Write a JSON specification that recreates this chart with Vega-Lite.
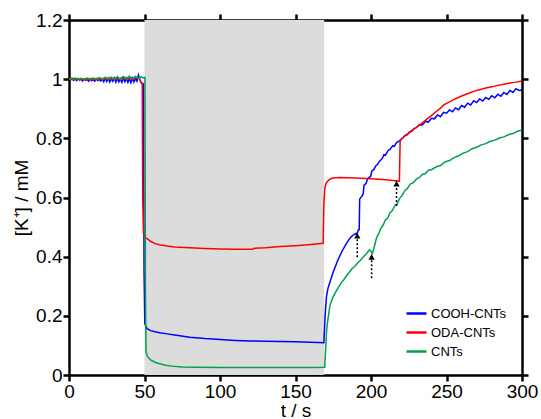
{
  "$schema": "https://vega.github.io/schema/vega-lite/v6.json",
  "width": 453,
  "height": 355,
  "autosize": {"type": "none"},
  "padding": {"left": 69, "top": 20, "right": 19, "bottom": 44},
  "config": {
    "view": {"stroke": null},
    "font": "Liberation Sans",
    "axis": {
      "grid": false,
      "domainColor": "black",
      "domainWidth": 2.5,
      "tickColor": "black",
      "tickWidth": 2.5,
      "tickSize": 6,
      "labelColor": "black",
      "labelFontSize": 19,
      "labelFont": "Liberation Sans",
      "titleFont": "Liberation Sans",
      "titleFontSize": 19,
      "titleFontWeight": "normal",
      "titleColor": "black",
      "labelFlush": false,
      "labelOverlap": false
    },
    "legend": {
      "orient": "none",
      "legendX": 336,
      "legendY": 282,
      "padding": 0,
      "symbolType": "stroke",
      "symbolSize": 400,
      "symbolStrokeWidth": 2.5,
      "labelFontSize": 13,
      "labelFont": "Liberation Sans",
      "labelColor": "black",
      "labelOffset": 3,
      "rowPadding": 0,
      "title": null
    }
  },
  "datasets": {
    "band": [{"start": 50, "end": 169}],
    "arrows": [
      {"t": 190.9, "from": 0.398, "to": 0.481},
      {"t": 200.4, "from": 0.327, "to": 0.409},
      {"t": 216.9, "from": 0.571, "to": 0.657}
    ],
    "lines": [
      {"series":"COOH-CNTs","t":0,"k":1.000},{"series":"COOH-CNTs","t":1,"k":0.997},{"series":"COOH-CNTs","t":2,"k":1.003},{"series":"COOH-CNTs","t":3,"k":0.996},{"series":"COOH-CNTs","t":4,"k":1.001},{"series":"COOH-CNTs","t":5,"k":0.995},{"series":"COOH-CNTs","t":6,"k":1.002},{"series":"COOH-CNTs","t":7,"k":0.997},{"series":"COOH-CNTs","t":8,"k":1.000},{"series":"COOH-CNTs","t":9,"k":0.994},{"series":"COOH-CNTs","t":10,"k":1.001},{"series":"COOH-CNTs","t":11,"k":0.996},{"series":"COOH-CNTs","t":12,"k":0.999},{"series":"COOH-CNTs","t":13,"k":0.993},{"series":"COOH-CNTs","t":14,"k":1.001},{"series":"COOH-CNTs","t":15,"k":0.995},{"series":"COOH-CNTs","t":16,"k":0.999},{"series":"COOH-CNTs","t":17,"k":0.993},{"series":"COOH-CNTs","t":18,"k":1.002},{"series":"COOH-CNTs","t":19,"k":0.995},{"series":"COOH-CNTs","t":20,"k":1.000},{"series":"COOH-CNTs","t":21,"k":0.994},{"series":"COOH-CNTs","t":22,"k":1.001},{"series":"COOH-CNTs","t":23,"k":0.991},{"series":"COOH-CNTs","t":24,"k":1.003},{"series":"COOH-CNTs","t":25,"k":0.992},{"series":"COOH-CNTs","t":26,"k":1.003},{"series":"COOH-CNTs","t":27,"k":0.990},{"series":"COOH-CNTs","t":28,"k":1.002},{"series":"COOH-CNTs","t":29,"k":0.993},{"series":"COOH-CNTs","t":30,"k":1.004},{"series":"COOH-CNTs","t":31,"k":0.990},{"series":"COOH-CNTs","t":32,"k":1.003},{"series":"COOH-CNTs","t":33,"k":0.991},{"series":"COOH-CNTs","t":34,"k":1.002},{"series":"COOH-CNTs","t":35,"k":0.989},{"series":"COOH-CNTs","t":36,"k":1.004},{"series":"COOH-CNTs","t":37,"k":0.991},{"series":"COOH-CNTs","t":38,"k":1.003},{"series":"COOH-CNTs","t":39,"k":0.989},{"series":"COOH-CNTs","t":40,"k":1.002},{"series":"COOH-CNTs","t":41,"k":0.988},{"series":"COOH-CNTs","t":42,"k":1.003},{"series":"COOH-CNTs","t":43,"k":0.990},{"series":"COOH-CNTs","t":44,"k":1.002},{"series":"COOH-CNTs","t":45,"k":0.993},{"series":"COOH-CNTs","t":46,"k":1.014},{"series":"COOH-CNTs","t":47,"k":0.997},{"series":"COOH-CNTs","t":48,"k":0.986},{"series":"COOH-CNTs","t":49.3,"k":0.984},{"series":"COOH-CNTs","t":49.7,"k":0.35},{"series":"COOH-CNTs","t":50.2,"k":0.175},{"series":"COOH-CNTs","t":51,"k":0.162},{"series":"COOH-CNTs","t":52,"k":0.156},{"series":"COOH-CNTs","t":54,"k":0.150},{"series":"COOH-CNTs","t":57,"k":0.146},{"series":"COOH-CNTs","t":60,"k":0.143},{"series":"COOH-CNTs","t":65,"k":0.139},{"series":"COOH-CNTs","t":70,"k":0.135},{"series":"COOH-CNTs","t":80,"k":0.128},{"series":"COOH-CNTs","t":90,"k":0.123},{"series":"COOH-CNTs","t":100,"k":0.120},{"series":"COOH-CNTs","t":110,"k":0.117},{"series":"COOH-CNTs","t":120,"k":0.115},{"series":"COOH-CNTs","t":130,"k":0.114},{"series":"COOH-CNTs","t":140,"k":0.113},{"series":"COOH-CNTs","t":150,"k":0.112},{"series":"COOH-CNTs","t":160,"k":0.111},{"series":"COOH-CNTs","t":168.8,"k":0.109},{"series":"COOH-CNTs","t":169.6,"k":0.2},{"series":"COOH-CNTs","t":170.5,"k":0.265},{"series":"COOH-CNTs","t":171.5,"k":0.293},{"series":"COOH-CNTs","t":173,"k":0.318},{"series":"COOH-CNTs","t":175,"k":0.348},{"series":"COOH-CNTs","t":178,"k":0.388},{"series":"COOH-CNTs","t":181,"k":0.42},{"series":"COOH-CNTs","t":183,"k":0.438},{"series":"COOH-CNTs","t":185,"k":0.455},{"series":"COOH-CNTs","t":187,"k":0.468},{"series":"COOH-CNTs","t":188.5,"k":0.474},{"series":"COOH-CNTs","t":190,"k":0.479},{"series":"COOH-CNTs","t":190.8,"k":0.476},{"series":"COOH-CNTs","t":191.5,"k":0.49},{"series":"COOH-CNTs","t":192.2,"k":0.491},{"series":"COOH-CNTs","t":192.5,"k":0.595},{"series":"COOH-CNTs","t":193.8,"k":0.603},{"series":"COOH-CNTs","t":194.8,"k":0.612},{"series":"COOH-CNTs","t":195.4,"k":0.642},{"series":"COOH-CNTs","t":196.8,"k":0.648},{"series":"COOH-CNTs","t":197.6,"k":0.662},{"series":"COOH-CNTs","t":198.8,"k":0.668},{"series":"COOH-CNTs","t":199.8,"k":0.672},{"series":"COOH-CNTs","t":200.6,"k":0.69},{"series":"COOH-CNTs","t":202,"k":0.695},{"series":"COOH-CNTs","t":203,"k":0.706},{"series":"COOH-CNTs","t":204.4,"k":0.712},{"series":"COOH-CNTs","t":205.5,"k":0.722},{"series":"COOH-CNTs","t":206.5,"k":0.727},{"series":"COOH-CNTs","t":207.5,"k":0.732},{"series":"COOH-CNTs","t":208.5,"k":0.745},{"series":"COOH-CNTs","t":209.5,"k":0.743},{"series":"COOH-CNTs","t":210.5,"k":0.752},{"series":"COOH-CNTs","t":211.5,"k":0.76},{"series":"COOH-CNTs","t":212.5,"k":0.762},{"series":"COOH-CNTs","t":213.5,"k":0.769},{"series":"COOH-CNTs","t":214.5,"k":0.775},{"series":"COOH-CNTs","t":215.5,"k":0.773},{"series":"COOH-CNTs","t":216.5,"k":0.783},{"series":"COOH-CNTs","t":217.5,"k":0.788},{"series":"COOH-CNTs","t":218.5,"k":0.79},{"series":"COOH-CNTs","t":219.5,"k":0.795},{"series":"COOH-CNTs","t":221,"k":0.801},{"series":"COOH-CNTs","t":222.5,"k":0.81},{"series":"COOH-CNTs","t":224,"k":0.812},{"series":"COOH-CNTs","t":225.5,"k":0.822},{"series":"COOH-CNTs","t":227,"k":0.824},{"series":"COOH-CNTs","t":228.5,"k":0.833},{"series":"COOH-CNTs","t":230,"k":0.836},{"series":"COOH-CNTs","t":232,"k":0.846},{"series":"COOH-CNTs","t":234,"k":0.845},{"series":"COOH-CNTs","t":236,"k":0.858},{"series":"COOH-CNTs","t":238,"k":0.855},{"series":"COOH-CNTs","t":240,"k":0.868},{"series":"COOH-CNTs","t":242,"k":0.866},{"series":"COOH-CNTs","t":244,"k":0.879},{"series":"COOH-CNTs","t":246,"k":0.873},{"series":"COOH-CNTs","t":248,"k":0.888},{"series":"COOH-CNTs","t":250,"k":0.885},{"series":"COOH-CNTs","t":252,"k":0.896},{"series":"COOH-CNTs","t":254,"k":0.89},{"series":"COOH-CNTs","t":256,"k":0.903},{"series":"COOH-CNTs","t":258,"k":0.897},{"series":"COOH-CNTs","t":260,"k":0.911},{"series":"COOH-CNTs","t":262,"k":0.905},{"series":"COOH-CNTs","t":264,"k":0.919},{"series":"COOH-CNTs","t":266,"k":0.913},{"series":"COOH-CNTs","t":268,"k":0.927},{"series":"COOH-CNTs","t":270,"k":0.921},{"series":"COOH-CNTs","t":272,"k":0.933},{"series":"COOH-CNTs","t":274,"k":0.926},{"series":"COOH-CNTs","t":276,"k":0.938},{"series":"COOH-CNTs","t":278,"k":0.932},{"series":"COOH-CNTs","t":280,"k":0.944},{"series":"COOH-CNTs","t":282,"k":0.937},{"series":"COOH-CNTs","t":284,"k":0.949},{"series":"COOH-CNTs","t":286,"k":0.942},{"series":"COOH-CNTs","t":288,"k":0.955},{"series":"COOH-CNTs","t":290,"k":0.948},{"series":"COOH-CNTs","t":292,"k":0.962},{"series":"COOH-CNTs","t":294,"k":0.955},{"series":"COOH-CNTs","t":296,"k":0.968},{"series":"COOH-CNTs","t":298,"k":0.962},{"series":"COOH-CNTs","t":300,"k":0.963},

      {"series":"ODA-CNTs","t":0,"k":1.000},{"series":"ODA-CNTs","t":4,"k":0.999},{"series":"ODA-CNTs","t":8,"k":1.000},{"series":"ODA-CNTs","t":12,"k":0.998},{"series":"ODA-CNTs","t":16,"k":1.000},{"series":"ODA-CNTs","t":20,"k":0.999},{"series":"ODA-CNTs","t":24,"k":1.001},{"series":"ODA-CNTs","t":28,"k":1.000},{"series":"ODA-CNTs","t":32,"k":1.001},{"series":"ODA-CNTs","t":36,"k":1.002},{"series":"ODA-CNTs","t":40,"k":1.001},{"series":"ODA-CNTs","t":44,"k":1.003},{"series":"ODA-CNTs","t":46.5,"k":1.003},{"series":"ODA-CNTs","t":47.5,"k":0.992},{"series":"ODA-CNTs","t":48.5,"k":0.985},{"series":"ODA-CNTs","t":48.8,"k":0.6},{"series":"ODA-CNTs","t":49.3,"k":0.48},{"series":"ODA-CNTs","t":50.2,"k":0.468},{"series":"ODA-CNTs","t":51,"k":0.463},{"series":"ODA-CNTs","t":52,"k":0.46},{"series":"ODA-CNTs","t":54,"k":0.452},{"series":"ODA-CNTs","t":57,"k":0.444},{"series":"ODA-CNTs","t":60,"k":0.44},{"series":"ODA-CNTs","t":65,"k":0.436},{"series":"ODA-CNTs","t":70,"k":0.433},{"series":"ODA-CNTs","t":80,"k":0.43},{"series":"ODA-CNTs","t":90,"k":0.428},{"series":"ODA-CNTs","t":100,"k":0.426},{"series":"ODA-CNTs","t":110,"k":0.425},{"series":"ODA-CNTs","t":121.5,"k":0.425},{"series":"ODA-CNTs","t":122.2,"k":0.428},{"series":"ODA-CNTs","t":130,"k":0.43},{"series":"ODA-CNTs","t":140,"k":0.434},{"series":"ODA-CNTs","t":150,"k":0.437},{"series":"ODA-CNTs","t":160,"k":0.441},{"series":"ODA-CNTs","t":168.3,"k":0.445},{"series":"ODA-CNTs","t":168.8,"k":0.58},{"series":"ODA-CNTs","t":169.5,"k":0.635},{"series":"ODA-CNTs","t":170.5,"k":0.65},{"series":"ODA-CNTs","t":172,"k":0.659},{"series":"ODA-CNTs","t":174,"k":0.665},{"series":"ODA-CNTs","t":176,"k":0.667},{"series":"ODA-CNTs","t":180,"k":0.668},{"series":"ODA-CNTs","t":190,"k":0.666},{"series":"ODA-CNTs","t":200,"k":0.663},{"series":"ODA-CNTs","t":210,"k":0.66},{"series":"ODA-CNTs","t":218.8,"k":0.655},{"series":"ODA-CNTs","t":219.3,"k":0.79},{"series":"ODA-CNTs","t":220,"k":0.797},{"series":"ODA-CNTs","t":222,"k":0.806},{"series":"ODA-CNTs","t":224,"k":0.814},{"series":"ODA-CNTs","t":226,"k":0.822},{"series":"ODA-CNTs","t":228,"k":0.83},{"series":"ODA-CNTs","t":230,"k":0.837},{"series":"ODA-CNTs","t":232,"k":0.845},{"series":"ODA-CNTs","t":234,"k":0.852},{"series":"ODA-CNTs","t":236,"k":0.861},{"series":"ODA-CNTs","t":238,"k":0.869},{"series":"ODA-CNTs","t":240,"k":0.877},{"series":"ODA-CNTs","t":243,"k":0.89},{"series":"ODA-CNTs","t":246,"k":0.902},{"series":"ODA-CNTs","t":248,"k":0.912},{"series":"ODA-CNTs","t":250,"k":0.918},{"series":"ODA-CNTs","t":253,"k":0.926},{"series":"ODA-CNTs","t":256,"k":0.934},{"series":"ODA-CNTs","t":260,"k":0.943},{"series":"ODA-CNTs","t":263,"k":0.949},{"series":"ODA-CNTs","t":266,"k":0.955},{"series":"ODA-CNTs","t":270,"k":0.962},{"series":"ODA-CNTs","t":273,"k":0.966},{"series":"ODA-CNTs","t":276,"k":0.97},{"series":"ODA-CNTs","t":280,"k":0.974},{"series":"ODA-CNTs","t":284,"k":0.979},{"series":"ODA-CNTs","t":288,"k":0.983},{"series":"ODA-CNTs","t":292,"k":0.987},{"series":"ODA-CNTs","t":296,"k":0.99},{"series":"ODA-CNTs","t":300,"k":0.994},

      {"series":"CNTs","t":0,"k":1.002},{"series":"CNTs","t":2,"k":1.0},{"series":"CNTs","t":4,"k":1.004},{"series":"CNTs","t":6,"k":1.0},{"series":"CNTs","t":8,"k":1.003},{"series":"CNTs","t":10,"k":1.0},{"series":"CNTs","t":12,"k":1.004},{"series":"CNTs","t":14,"k":1.001},{"series":"CNTs","t":16,"k":1.004},{"series":"CNTs","t":18,"k":1.0},{"series":"CNTs","t":20,"k":1.005},{"series":"CNTs","t":22,"k":1.001},{"series":"CNTs","t":24,"k":1.006},{"series":"CNTs","t":26,"k":1.001},{"series":"CNTs","t":28,"k":1.007},{"series":"CNTs","t":30,"k":1.0},{"series":"CNTs","t":32,"k":1.008},{"series":"CNTs","t":34,"k":1.0},{"series":"CNTs","t":36,"k":1.009},{"series":"CNTs","t":38,"k":1.001},{"series":"CNTs","t":40,"k":1.01},{"series":"CNTs","t":42,"k":1.002},{"series":"CNTs","t":44,"k":1.009},{"series":"CNTs","t":46,"k":1.003},{"series":"CNTs","t":48,"k":1.008},{"series":"CNTs","t":49,"k":1.004},{"series":"CNTs","t":50.3,"k":1.006},{"series":"CNTs","t":50.6,"k":0.3},{"series":"CNTs","t":51,"k":0.078},{"series":"CNTs","t":52,"k":0.063},{"series":"CNTs","t":54,"k":0.051},{"series":"CNTs","t":57,"k":0.043},{"series":"CNTs","t":60,"k":0.038},{"series":"CNTs","t":64,"k":0.033},{"series":"CNTs","t":68,"k":0.03},{"series":"CNTs","t":75,"k":0.027},{"series":"CNTs","t":85,"k":0.026},{"series":"CNTs","t":100,"k":0.025},{"series":"CNTs","t":120,"k":0.025},{"series":"CNTs","t":140,"k":0.025},{"series":"CNTs","t":160,"k":0.025},{"series":"CNTs","t":169.3,"k":0.026},{"series":"CNTs","t":169.9,"k":0.08},{"series":"CNTs","t":170.6,"k":0.15},{"series":"CNTs","t":171.3,"k":0.182},{"series":"CNTs","t":172.8,"k":0.235},{"series":"CNTs","t":174.5,"k":0.26},{"series":"CNTs","t":176.2,"k":0.277},{"series":"CNTs","t":178,"k":0.293},{"series":"CNTs","t":180.6,"k":0.314},{"series":"CNTs","t":182,"k":0.322},{"series":"CNTs","t":184,"k":0.337},{"series":"CNTs","t":186,"k":0.35},{"series":"CNTs","t":187.5,"k":0.36},{"series":"CNTs","t":189,"k":0.366},{"series":"CNTs","t":191,"k":0.378},{"series":"CNTs","t":193,"k":0.388},{"series":"CNTs","t":195,"k":0.4},{"series":"CNTs","t":197,"k":0.41},{"series":"CNTs","t":198.9,"k":0.423},{"series":"CNTs","t":199.8,"k":0.419},{"series":"CNTs","t":200.9,"k":0.41},{"series":"CNTs","t":202,"k":0.43},{"series":"CNTs","t":203.8,"k":0.466},{"series":"CNTs","t":205,"k":0.476},{"series":"CNTs","t":206.5,"k":0.496},{"series":"CNTs","t":208,"k":0.506},{"series":"CNTs","t":209.5,"k":0.524},{"series":"CNTs","t":211,"k":0.53},{"series":"CNTs","t":212.5,"k":0.548},{"series":"CNTs","t":214,"k":0.555},{"series":"CNTs","t":216,"k":0.574},{"series":"CNTs","t":217.5,"k":0.58},{"series":"CNTs","t":219,"k":0.598},{"series":"CNTs","t":220.5,"k":0.606},{"series":"CNTs","t":222.5,"k":0.624},{"series":"CNTs","t":224,"k":0.63},{"series":"CNTs","t":226,"k":0.645},{"series":"CNTs","t":228,"k":0.65},{"series":"CNTs","t":230,"k":0.662},{"series":"CNTs","t":232,"k":0.667},{"series":"CNTs","t":234,"k":0.678},{"series":"CNTs","t":236,"k":0.681},{"series":"CNTs","t":238,"k":0.692},{"series":"CNTs","t":240,"k":0.694},{"series":"CNTs","t":243,"k":0.703},{"series":"CNTs","t":246,"k":0.708},{"series":"CNTs","t":249,"k":0.72},{"series":"CNTs","t":252,"k":0.725},{"series":"CNTs","t":255,"k":0.735},{"series":"CNTs","t":258,"k":0.741},{"series":"CNTs","t":261,"k":0.75},{"series":"CNTs","t":264,"k":0.755},{"series":"CNTs","t":267,"k":0.765},{"series":"CNTs","t":270,"k":0.77},{"series":"CNTs","t":273,"k":0.778},{"series":"CNTs","t":276,"k":0.782},{"series":"CNTs","t":279,"k":0.79},{"series":"CNTs","t":282,"k":0.794},{"series":"CNTs","t":285,"k":0.801},{"series":"CNTs","t":288,"k":0.805},{"series":"CNTs","t":291,"k":0.812},{"series":"CNTs","t":294,"k":0.816},{"series":"CNTs","t":297,"k":0.824},{"series":"CNTs","t":300,"k":0.828}
    ]
  },
  "layer": [
    {
      "layer": [
        {
          "data": {"name": "band"},
          "mark": {"type": "rect", "color": "#dcdcdc"},
          "encoding": {
            "x": {"field": "start", "type": "quantitative", "scale": {"domain": [0, 300], "nice": false}, "title": "t / s"},
            "x2": {"field": "end"}
          }
        },
        {
          "data": {"name": "lines"},
          "mark": {"type": "line", "strokeWidth": 1.5, "interpolate": "linear"},
          "encoding": {
            "x": {
              "field": "t", "type": "quantitative",
              "scale": {"domain": [0, 300], "nice": false},
              "title": "t / s",
              "axis": {"orient": "bottom", "values": [0, 50, 100, 150, 200, 250, 300], "labelPadding": 1, "titlePadding": 0}
            },
            "y": {
              "field": "k", "type": "quantitative",
              "scale": {"domain": [0, 1.2], "nice": false},
              "title": "[K⁺] / mM",
              "axis": {"orient": "left", "values": [0, 0.2, 0.4, 0.6, 0.8, 1, 1.2], "format": "~g", "labelPadding": 1, "titlePadding": 4}
            },
            "color": {
              "field": "series", "type": "nominal",
              "scale": {"domain": ["COOH-CNTs", "ODA-CNTs", "CNTs"], "range": ["#0000ff", "#ff0000", "#00a050"]},
              "legend": {}
            }
          }
        },
        {
          "data": {"name": "arrows"},
          "mark": {"type": "rule", "color": "black", "strokeWidth": 1.5, "strokeDash": [2, 2]},
          "encoding": {
            "x": {"field": "t", "type": "quantitative", "title": "t / s"},
            "y": {"field": "from", "type": "quantitative", "title": "[K⁺] / mM"},
            "y2": {"field": "to"}
          }
        },
        {
          "data": {"name": "arrows"},
          "mark": {"type": "point", "shape": "triangle-up", "filled": true, "color": "black", "opacity": 1, "size": 40, "yOffset": 3},
          "encoding": {
            "x": {"field": "t", "type": "quantitative", "title": "t / s"},
            "y": {"field": "to", "type": "quantitative", "title": "[K⁺] / mM"}
          }
        }
      ]
    },
    {
      "data": {"name": "band"},
      "mark": {"type": "point", "opacity": 0},
      "encoding": {
        "x": {"field": "start", "type": "quantitative", "scale": {"domain": [0, 300], "nice": false},
              "axis": {"orient": "top", "labels": false, "title": null, "values": [0, 50, 100, 150, 200, 250, 300]}},
        "y": {"field": "end", "type": "quantitative", "scale": {"domain": [0, 1.2], "nice": false},
              "axis": {"orient": "right", "labels": false, "title": null, "values": [0, 0.2, 0.4, 0.6, 0.8, 1, 1.2]}}
      }
    }
  ],
  "resolve": {"axis": {"x": "independent", "y": "independent"}}
}
